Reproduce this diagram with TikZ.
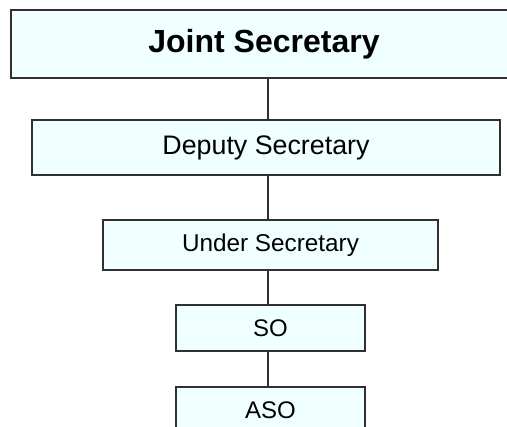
\documentclass[tikz,border=0pt]{standalone}
\usepackage{fontspec}
\setmainfont{Liberation Sans}
\definecolor{boxfill}{HTML}{F0FFFF}
\definecolor{boxline}{HTML}{303030}
\begin{document}
\begin{tikzpicture}[x=1pt,y=-1pt,
  box/.style={draw=boxline, fill=boxfill, line width=1.4pt, inner sep=0pt, outer sep=0pt},
  link/.style={draw=boxline, line width=1.2pt}]
\useasboundingbox (0,0) rectangle (507,427);
\clip (0,0) rectangle (507,427);
\coordinate (axis) at (268,0);
\node[box, minimum width=506pt, minimum height=68pt] (js) at (264,44)
  {\fontsize{32}{37}\selectfont\bfseries Joint Secretary};
\node[box, minimum width=468pt, minimum height=55pt] (ds) at (266,147.5)
  {\fontsize{26.8}{32}\selectfont Deputy Secretary};
\node[box, minimum width=335pt, minimum height=50pt] (us) at (270.5,245)
  {\fontsize{24.3}{29}\selectfont Under Secretary};
\node[box, minimum width=189pt, minimum height=46pt] (so) at (270.5,328)
  {\fontsize{24}{28}\selectfont SO};
\node[box, minimum width=189pt, minimum height=46pt] (aso) at (270.5,410)
  {\fontsize{24}{28}\selectfont ASO};
\draw[link] (js.south -| axis) -- (ds.north -| axis);
\draw[link] (ds.south -| axis) -- (us.north -| axis);
\draw[link] (us.south -| axis) -- (so.north -| axis);
\draw[link] (so.south -| axis) -- (aso.north -| axis);
\end{tikzpicture}
\end{document}
